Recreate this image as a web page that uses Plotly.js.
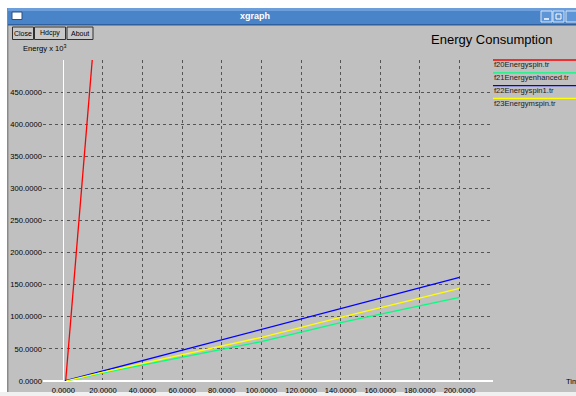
<!DOCTYPE html>
<html>
<head>
<meta charset="utf-8">
<script src="https://cdn.plot.ly/plotly-3.0.1.min.js"></script>
<style>
html,body{margin:0;padding:0;background:#c0c0c0;}
#chart{width:576px;height:396px;}
</style>
</head>
<body>
<div id="chart"></div>
<script>
// ---- data ----
const seriesNames = ['f20Energyspin.tr', 'f21Energyenhanced.tr', 'f22Energyspin1.tr', 'f23Energymspin.tr'];
const seriesColors = ['#ff0000', '#00ff7f', '#0000ff', '#ffff00'];
const redX = [1.2, 14.6];
const redY = [0, 500];
const greenX = [1.5, 20, 100, 140, 200];
const greenY = [0, 12.5, 61.5, 91, 130.2];
const blueX = [0.7, 100, 200];
const blueY = [0, 80, 161.3];
const yellowX = [1.5, 20, 100, 140, 200];
const yellowY = [0, 14, 68, 99, 144.2];
const xTickVals = [0, 20, 40, 60, 80, 100, 120, 140, 160, 180, 200];
const yTickVals = [0, 50, 100, 150, 200, 250, 300, 350, 400, 450];
const chartTitle = 'Energy Consumption';
const yLabel = 'Energy x 10<sup>3</sup>';
const xLabel = 'Time';
const buttons = ['Close', 'Hdcpy', 'About'];

// ---- geometry helpers (pixel -> paper) ----
const L = 43, R = 83, T = 60, B = 15, W = 576, H = 396;
const PW = W - L - R, PH = H - T - B;
const px = x => (x - L) / PW;
const py = y => (H - B - y) / PH;
const FONT = 'Liberation Sans, Arial, sans-serif';

const xs = [redX, greenX, blueX, yellowX];
const ys = [redY, greenY, blueY, yellowY];
const traces = xs.map((x, i) => ({
  x: x, y: ys[i], type: 'scatter', mode: 'lines', name: seriesNames[i],
  line: {color: seriesColors[i], width: 1.3}, hoverinfo: 'skip'
}));

const shapes = [];
const annotations = [];
function rect(x0, y0, x1, y1, fill, line, lw) {
  shapes.push({type: 'rect', xref: 'paper', yref: 'paper', layer: 'below',
    x0: px(x0), x1: px(x1), y0: py(y0), y1: py(y1),
    fillcolor: fill, line: {color: line || 'rgba(0,0,0,0)', width: lw || 0}});
}
function text(t, x, y, size, color, xa, extra) {
  annotations.push(Object.assign({text: t, xref: 'paper', yref: 'paper', x: px(x), y: py(y),
    xanchor: xa || 'left', yanchor: 'middle', showarrow: false,
    font: {family: FONT, size: size, color: color || '#000'}}, extra || {}));
}

// window chrome
rect(0, 0, 576, 8, '#ffffff');
rect(0, 0, 7, 396, '#ffffff');
rect(7, 8, 8.5, 396, '#8a8a8a');
rect(0, 392, 576, 396, '#f0f0f0');
rect(8, 8, 576, 25, '#4a84c8');
rect(8, 8, 576, 11, '#6c9edb');
rect(8, 24, 576, 25.5, '#2f5f9c');
rect(12, 12, 22, 19.5, '#ffffff', '#2a4f80', 1);
rect(541, 11, 552, 22, '#5d95d6', '#d8e6f6', 1);
rect(553, 11, 564, 22, '#5d95d6', '#d8e6f6', 1);
rect(566, 11, 577, 22, '#5d95d6', '#d8e6f6', 1);
shapes.push({type: 'line', xref: 'paper', yref: 'paper', x0: px(544), x1: px(549), y0: py(19), y1: py(19), line: {color: '#fff', width: 1.5}});
rect(556, 14, 561, 19, 'rgba(0,0,0,0)', '#ffffff', 1);
text('<b>xgraph</b>', 255, 16.5, 9, '#ffffff', 'center');

// buttons
const btnX = [[12.5, 33.5], [34.5, 65.5], [67, 93]];
buttons.forEach((b, i) => {
  rect(btnX[i][0], 27, btnX[i][1], 39.5, '#c8c8c8', '#303030', 1);
  text(b, (btnX[i][0] + btnX[i][1]) / 2, 33.3, 7, '#000', 'center');
});

// titles
text(chartTitle, 491, 39, 13, '#000', 'center');
text(yLabel, 21, 47.5, 7.6, '#000', 'left');
text(xLabel, 564, 381, 7.6, '#000', 'left');

// custom legend
seriesNames.forEach((n, i) => {
  const yl = 60 + i * 12.8;
  shapes.push({type: 'line', xref: 'paper', yref: 'paper', layer: 'above',
    x0: px(493), x1: px(577), y0: py(yl), y1: py(yl),
    line: {color: seriesColors[i], width: 1.3}});
  text(n, 492, yl + 4.6, 7.6, '#1a1a1a', 'left');
});

const layout = {
  width: W, height: H,
  margin: {l: L, r: R, t: T, b: B, pad: 0},
  paper_bgcolor: '#c0c0c0', plot_bgcolor: '#c0c0c0',
  showlegend: false,
  font: {family: FONT, size: 7.6, color: '#000'},
  xaxis: {
    range: [-10.25, 216.9], tickvals: xTickVals, tickformat: '.4f',
    showgrid: true, gridcolor: '#555555', griddash: 'dot', gridwidth: 1,
    zeroline: true, zerolinecolor: '#ffffff', zerolinewidth: 1.3,
    showline: false, ticks: '', ticklabelstandoff: 3,
    tickfont: {family: FONT, size: 7.6, color: '#000'}
  },
  yaxis: {
    range: [0, 500], tickvals: yTickVals, tickformat: '.4f',
    showgrid: true, gridcolor: '#555555', griddash: 'dot', gridwidth: 1,
    zeroline: true, zerolinecolor: '#ffffff', zerolinewidth: 1.3,
    showline: false, ticks: '',
    tickfont: {family: FONT, size: 7.6, color: '#000'}
  },
  shapes: shapes,
  annotations: annotations
};

Plotly.newPlot('chart', traces, layout, {displayModeBar: false, staticPlot: true});
</script>
</body>
</html>
